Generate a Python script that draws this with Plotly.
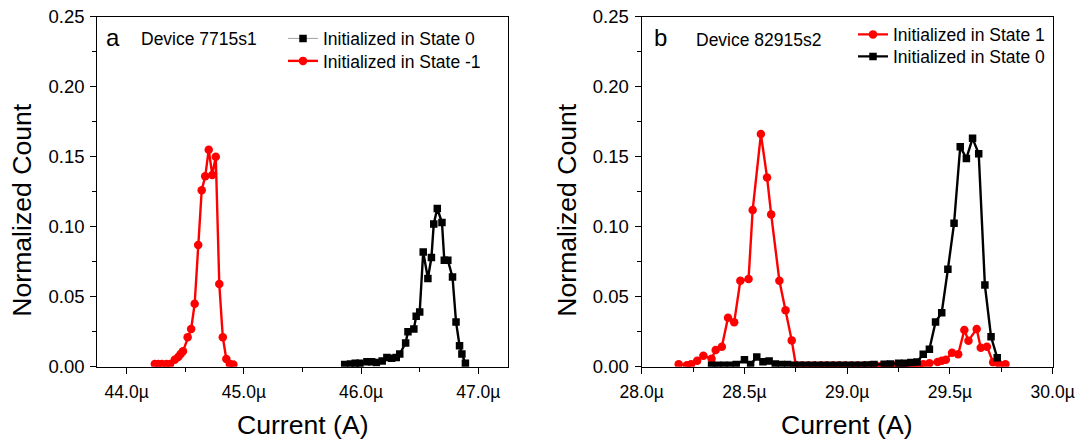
import plotly.graph_objects as go

W, H = 1081, 444
FONT = "Liberation Sans, Arial, sans-serif"

# ---- Panel a: Device 7715s1 (current in microamps) ----
a_state0_current = [45.86, 45.91, 45.95, 45.99, 46.05, 46.09, 46.13, 46.18, 46.22, 46.26,
                    46.30, 46.33, 46.38, 46.40, 46.45, 46.47, 46.50, 46.53, 46.57, 46.60,
                    46.62, 46.65, 46.69, 46.71, 46.74, 46.78, 46.81, 46.84, 46.86, 46.89]
a_state0_count = [0.0015, 0.002, 0.0025, 0.0025, 0.0035, 0.0035, 0.003, 0.004, 0.0065, 0.006,
                  0.0065, 0.009, 0.017, 0.025, 0.027, 0.036, 0.039, 0.082, 0.063, 0.078,
                  0.102, 0.113, 0.103, 0.076, 0.076, 0.064, 0.032, 0.015, 0.009, 0.0025]

a_statem1_current = [44.24, 44.27, 44.30, 44.34, 44.37, 44.41, 44.44, 44.46, 44.48, 44.52,
                     44.55, 44.58, 44.61, 44.64, 44.67, 44.70, 44.73, 44.76, 44.79, 44.82,
                     44.85, 44.88, 44.91]
a_statem1_count = [0.002, 0.002, 0.002, 0.002, 0.002, 0.005, 0.007, 0.009, 0.011, 0.021,
                   0.027, 0.045, 0.087, 0.126, 0.136, 0.155, 0.137, 0.150, 0.059, 0.021,
                   0.0055, 0.002, 0.0015]

# ---- Panel b: Device 82915s2 ----
b_state1_current = [28.18, 28.22, 28.24, 28.27, 28.30, 28.34, 28.36, 28.39, 28.42, 28.45,
                    28.48, 28.52, 28.54, 28.58, 28.61, 28.63, 28.67, 28.70, 28.73, 28.75,
                    28.78, 28.81, 28.84, 28.87, 28.90, 28.93, 28.96, 28.99, 29.02, 29.05,
                    29.08, 29.11, 29.14, 29.17, 29.20, 29.23, 29.26, 29.29, 29.32, 29.35,
                    29.37, 29.40, 29.44, 29.46, 29.48, 29.51, 29.54, 29.57, 29.59, 29.63,
                    29.65, 29.68, 29.71, 29.74, 29.77]
b_state1_count = [0.0017, 0.001, 0.0017, 0.0043, 0.0079, 0.0057, 0.0119, 0.0143, 0.035, 0.0317,
                  0.0614, 0.0626, 0.1119, 0.1662, 0.1352, 0.1088, 0.0614, 0.0403, 0.0188, 0.0012,
                  0.0008, 0.0008, 0.0008, 0.0008, 0.0008, 0.0008, 0.0008, 0.0008, 0.0008, 0.0008,
                  0.0008, 0.0008, 0.0008, 0.0008, 0.0008, 0.0008, 0.0008, 0.0008, 0.0008, 0.001,
                  0.0017, 0.0024, 0.0034, 0.0043, 0.005, 0.010, 0.0089, 0.0262, 0.0186, 0.0269,
                  0.0136, 0.0143, 0.0031, 0.0017, 0.0017]

b_state0_current = [28.34, 28.37, 28.40, 28.43, 28.46, 28.50, 28.53, 28.56, 28.59, 28.62,
                    28.65, 28.68, 28.71, 28.74, 28.77, 28.80, 28.83, 28.86, 28.89, 28.92,
                    28.95, 28.98, 29.01, 29.04, 29.07, 29.10, 29.13, 29.18, 29.21, 29.25,
                    29.28, 29.31, 29.34, 29.37, 29.40, 29.43, 29.46, 29.49, 29.52, 29.55,
                    29.58, 29.61, 29.64, 29.67, 29.70, 29.73]
b_state0_count = [0.001, 0.001, 0.001, 0.001, 0.0015, 0.005, 0.0015, 0.007, 0.0035, 0.004,
                  0.002, 0.0015, 0.0015, 0.001, 0.001, 0.001, 0.001, 0.001, 0.001, 0.001,
                  0.001, 0.001, 0.001, 0.001, 0.001, 0.0012, 0.0015, 0.0017, 0.002, 0.0024,
                  0.0025, 0.003, 0.0034, 0.0089, 0.0125, 0.0319, 0.0386, 0.0696, 0.1024, 0.1571,
                  0.1488, 0.1631, 0.1521, 0.0583, 0.0214, 0.0064]

# ---- Axis ticks ----
a_xticks = [44.0, 45.0, 46.0, 47.0]
a_xticklabels = ["44.0µ", "45.0µ", "46.0µ", "47.0µ"]
b_xticks = [28.0, 28.5, 29.0, 29.5, 30.0]
b_xticklabels = ["28.0µ", "28.5µ", "29.0µ", "29.5µ", "30.0µ"]
yticks = [0.0, 0.05, 0.10, 0.15, 0.20, 0.25]
yticklabels = ["0.00", "0.05", "0.10", "0.15", "0.20", "0.25"]

MICRO = 1e-6


def amps(values):
    return [v * MICRO for v in values]


def px_x(px):
    return px / W


def px_y(py):
    return 1 - py / H


RED = "#ff0000"
BLACK = "#000000"
LINE_W = 2.4

fig = go.Figure()

# panel a traces; each legend row is its own legend box for exact placement
fig.add_trace(go.Scatter(
    x=amps(a_state0_current), y=a_state0_count, mode="lines+markers",
    line=dict(color=BLACK, width=LINE_W), marker=dict(symbol="square", size=7.5, color=BLACK),
    xaxis="x", yaxis="y", showlegend=False))
fig.add_trace(go.Scatter(
    x=[None], y=[None], mode="lines+markers", name="Initialized in State 0",
    line=dict(color="#a0a0a0", width=1), marker=dict(symbol="square", size=7.5, color=BLACK),
    xaxis="x", yaxis="y", legend="legend"))
fig.add_trace(go.Scatter(
    x=amps(a_statem1_current), y=a_statem1_count, mode="lines+markers",
    name="Initialized in State -1",
    line=dict(color=RED, width=LINE_W), marker=dict(symbol="circle", size=8.5, color=RED),
    xaxis="x", yaxis="y", legend="legend2"))

# panel b traces
fig.add_trace(go.Scatter(
    x=amps(b_state1_current), y=b_state1_count, mode="lines+markers",
    name="Initialized in State 1",
    line=dict(color=RED, width=LINE_W), marker=dict(symbol="circle", size=8.5, color=RED),
    xaxis="x2", yaxis="y2", legend="legend3"))
fig.add_trace(go.Scatter(
    x=amps(b_state0_current), y=b_state0_count, mode="lines+markers",
    name="Initialized in State 0",
    line=dict(color=BLACK, width=LINE_W), marker=dict(symbol="square", size=7.5, color=BLACK),
    xaxis="x2", yaxis="y2", legend="legend4"))

axis_common = dict(
    showline=True, linecolor=BLACK, linewidth=1.3, mirror=True,
    ticks="outside", ticklen=6, tickwidth=1.3, tickcolor=BLACK,
    showgrid=False, zeroline=False, automargin=False,
)
xtickfont = dict(family=FONT, size=17.5, color=BLACK)
ytickfont = dict(family=FONT, size=18.5, color=BLACK)

y_dom = [px_y(366.7), px_y(16.7)]


def legend_box(left_px, top_px):
    return dict(x=px_x(left_px), y=px_y(top_px), xanchor="left", yanchor="top",
                bgcolor="rgba(0,0,0,0)", font=dict(family=FONT, size=17.5, color=BLACK),
                itemwidth=30)


fig.update_layout(
    template="none",
    width=W, height=H, autosize=False,
    margin=dict(l=0, r=0, t=0, b=0, pad=0),
    paper_bgcolor="white", plot_bgcolor="white",
    font=dict(family=FONT, color=BLACK),
    xaxis=dict(domain=[px_x(97.4), px_x(507.6)], range=[43.75 * MICRO, 47.25 * MICRO],
               tickvals=amps(a_xticks), ticktext=a_xticklabels, tickfont=xtickfont,
               ticklabelstandoff=3,
               minor=dict(ticks="outside", ticklen=4, tickwidth=1.3, tickcolor=BLACK,
                          dtick=0.5 * MICRO, tick0=44.0 * MICRO),
               anchor="y", **axis_common),
    yaxis=dict(domain=y_dom, range=[0, 0.25], tickvals=yticks, ticktext=yticklabels,
               tickfont=ytickfont, ticklabelstandoff=2,
               minor=dict(ticks="outside", ticklen=4, tickwidth=1.3, tickcolor=BLACK,
                          dtick=0.025, tick0=0),
               anchor="x", **axis_common),
    xaxis2=dict(domain=[px_x(641.7), px_x(1052.7)], range=[28.0 * MICRO, 30.0 * MICRO],
                tickvals=amps(b_xticks), ticktext=b_xticklabels, tickfont=xtickfont,
                ticklabelstandoff=3,
                minor=dict(ticks="outside", ticklen=4, tickwidth=1.3, tickcolor=BLACK,
                           dtick=0.25 * MICRO, tick0=28.0 * MICRO),
                anchor="y2", **axis_common),
    yaxis2=dict(domain=y_dom, range=[0, 0.25], tickvals=yticks, ticktext=yticklabels,
                tickfont=ytickfont, ticklabelstandoff=2,
                minor=dict(ticks="outside", ticklen=4, tickwidth=1.3, tickcolor=BLACK,
                           dtick=0.025, tick0=0),
                anchor="x2", **axis_common),
    legend=legend_box(283, 20.5),
    legend2=legend_box(283, 43),
    legend3=legend_box(853, 16.5),
    legend4=legend_box(853, 38.5),
)

annotations = [
    dict(text="a", x=px_x(104), y=px_y(37), xanchor="left", yanchor="middle",
         font=dict(size=24)),
    dict(text="Device 7715s1", x=px_x(139), y=px_y(39), xanchor="left", yanchor="middle",
         font=dict(size=17.5)),
    dict(text="b", x=px_x(652), y=px_y(37), xanchor="left", yanchor="middle",
         font=dict(size=24)),
    dict(text="Device 82915s2", x=px_x(694), y=px_y(40), xanchor="left", yanchor="middle",
         font=dict(size=17.5)),
    dict(text="Current (A)", x=px_x(302.5), y=px_y(425), xanchor="center", yanchor="middle",
         font=dict(size=26.6)),
    dict(text="Current (A)", x=px_x(847.2), y=px_y(425), xanchor="center", yanchor="middle",
         font=dict(size=26.6)),
    dict(text="Normalized Count", x=px_x(21.7), y=px_y(210), xanchor="center",
         yanchor="middle", textangle=-90, font=dict(size=26.6)),
    dict(text="Normalized Count", x=px_x(566.7), y=px_y(210), xanchor="center",
         yanchor="middle", textangle=-90, font=dict(size=26.6)),
]
for ann in annotations:
    ann.update(xref="paper", yref="paper", showarrow=False)
    ann["font"].update(family=FONT, color=BLACK)
fig.update_layout(annotations=annotations)

fig.write_html("out.html")
